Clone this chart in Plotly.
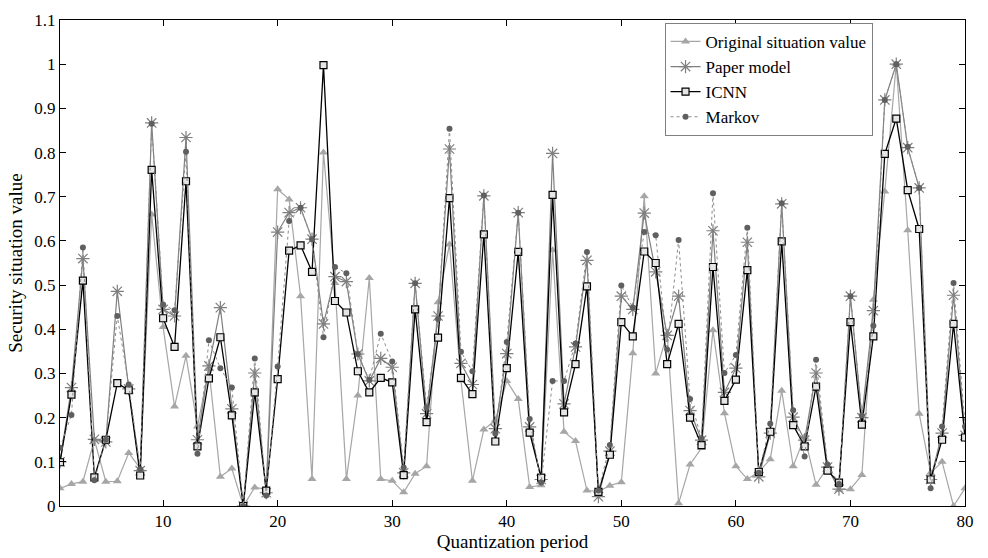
import plotly.graph_objects as go

periods = list(range(1, 81))

original = [0.04, 0.05, 0.055, 0.15, 0.055, 0.056, 0.12, 0.085, 0.66, 0.405,
            0.225, 0.34, 0.18, 0.31, 0.066, 0.085, 0.0, 0.042, 0.038, 0.717,
            0.694, 0.475, 0.061, 0.80, 0.505, 0.061, 0.25, 0.516, 0.061, 0.057,
            0.031, 0.073, 0.09, 0.461, 0.592, 0.284, 0.057, 0.173, 0.194, 0.283,
            0.242, 0.043, 0.047, 0.579, 0.168, 0.147, 0.035, 0.033, 0.046, 0.054,
            0.346, 0.701, 0.30, 0.39, 0.006, 0.094, 0.131, 0.398, 0.21, 0.09,
            0.061, 0.077, 0.106, 0.261, 0.09, 0.157, 0.048, 0.088, 0.037, 0.038,
            0.07, 0.467, 0.712, 1.0, 0.624, 0.209, 0.075, 0.1, 0.0, 0.04]

paper = [0.10, 0.268, 0.56, 0.151, 0.145, 0.486, 0.265, 0.08, 0.867, 0.445,
         0.43, 0.834, 0.15, 0.317, 0.449, 0.22, 0.0, 0.301, 0.03, 0.62,
         0.664, 0.675, 0.604, 0.412, 0.519, 0.508, 0.344, 0.283, 0.334, 0.314,
         0.075, 0.504, 0.209, 0.43, 0.808, 0.323, 0.275, 0.702, 0.175, 0.345,
         0.664, 0.179, 0.06, 0.798, 0.231, 0.36, 0.556, 0.021, 0.124, 0.475,
         0.445, 0.663, 0.53, 0.386, 0.475, 0.216, 0.149, 0.623, 0.257, 0.312,
         0.597, 0.066, 0.165, 0.684, 0.201, 0.149, 0.301, 0.088, 0.038, 0.475,
         0.2, 0.442, 0.919, 1.0, 0.811, 0.72, 0.06, 0.165, 0.477, 0.16]

icnn = [0.099, 0.252, 0.51, 0.065, 0.15, 0.278, 0.262, 0.069, 0.761, 0.425,
        0.36, 0.735, 0.135, 0.289, 0.382, 0.205, 0.0, 0.257, 0.035, 0.287,
        0.578, 0.59, 0.53, 0.998, 0.464, 0.438, 0.305, 0.257, 0.29, 0.28,
        0.07, 0.445, 0.19, 0.381, 0.697, 0.29, 0.253, 0.615, 0.146, 0.312,
        0.575, 0.166, 0.064, 0.704, 0.212, 0.321, 0.497, 0.032, 0.116, 0.416,
        0.384, 0.576, 0.55, 0.321, 0.412, 0.2, 0.138, 0.541, 0.238, 0.286,
        0.534, 0.077, 0.168, 0.599, 0.183, 0.135, 0.27, 0.08, 0.053, 0.416,
        0.184, 0.384, 0.797, 0.877, 0.715, 0.627, 0.06, 0.15, 0.412, 0.155]

markov = [0.132, 0.206, 0.585, 0.058, 0.15, 0.43, 0.275, 0.083, 0.865, 0.456,
          0.443, 0.802, 0.118, 0.375, 0.312, 0.268, 0.0, 0.334, 0.024, 0.316,
          0.645, 0.675, 0.604, 0.382, 0.541, 0.527, 0.344, 0.286, 0.39, 0.327,
          0.087, 0.504, 0.223, 0.423, 0.854, 0.349, 0.305, 0.703, 0.164, 0.371,
          0.664, 0.197, 0.053, 0.283, 0.283, 0.368, 0.575, 0.035, 0.138, 0.499,
          0.449, 0.62, 0.613, 0.354, 0.602, 0.242, 0.153, 0.708, 0.301, 0.342,
          0.63, 0.075, 0.186, 0.685, 0.217, 0.112, 0.331, 0.094, 0.05, 0.475,
          0.205, 0.408, 0.919, 1.0, 0.813, 0.72, 0.04, 0.18, 0.505, 0.18]

y_ticks = [0, 0.1, 0.2, 0.3, 0.4, 0.5, 0.6, 0.7, 0.8, 0.9, 1, 1.1]
y_tick_text = ["0", "0.1", "0.2", "0.3", "0.4", "0.5", "0.6", "0.7", "0.8", "0.9", "1", "1.1"]
x_ticks = [10, 20, 30, 40, 50, 60, 70, 80]

FONT = "Liberation Serif"

fig = go.Figure()
fig.add_trace(go.Scatter(
    x=periods, y=original, name="Original situation value", mode="lines+markers",
    line=dict(color="#a6a6a6", width=1.2),
    marker=dict(symbol="triangle-up", size=8, color="#a6a6a6")))
fig.add_trace(go.Scatter(
    x=periods, y=paper, name="Paper model", mode="lines+markers",
    line=dict(color="#7f7f7f", width=1.2),
    marker=dict(symbol="asterisk-open", size=11, color="#7f7f7f",
                line=dict(color="#7f7f7f", width=1.2))))
fig.add_trace(go.Scatter(
    x=periods, y=icnn, name="ICNN", mode="lines+markers",
    line=dict(color="#000000", width=1.3),
    marker=dict(symbol="square", size=7, color="#e6e6e6",
                line=dict(color="#000000", width=1.2))))
fig.add_trace(go.Scatter(
    x=periods, y=markov, name="Markov", mode="lines+markers",
    line=dict(color="#8c8c8c", width=1, dash="dot"),
    marker=dict(symbol="circle", size=6, color="#5f5f5f")))

axis_common = dict(showline=True, linecolor="black", linewidth=1, mirror="ticks",
                   ticks="inside", ticklen=6, tickcolor="black", showgrid=False,
                   zeroline=False, tickfont=dict(family=FONT, size=17, color="black"))

fig.update_layout(
    width=988, height=558,
    margin=dict(l=60, r=23, t=11, b=52),
    paper_bgcolor="white", plot_bgcolor="white",
    font=dict(family=FONT, size=17, color="black"),
    xaxis=dict(range=[1, 80], tickvals=x_ticks,
               title=dict(text="Quantization period", font=dict(family=FONT, size=19), standoff=2),
               **axis_common),
    yaxis=dict(range=[0, 1.1], tickvals=y_ticks, ticktext=y_tick_text,
               title=dict(text="Security situation value", font=dict(family=FONT, size=19), standoff=6),
               **axis_common),
    legend=dict(x=0.668, y=0.994, xanchor="left", yanchor="top",
                bgcolor="white", bordercolor="#808080", borderwidth=1,
                font=dict(family=FONT, size=17), tracegroupgap=0,
                itemwidth=30),
    showlegend=True,
)

fig.write_html("out.html")
